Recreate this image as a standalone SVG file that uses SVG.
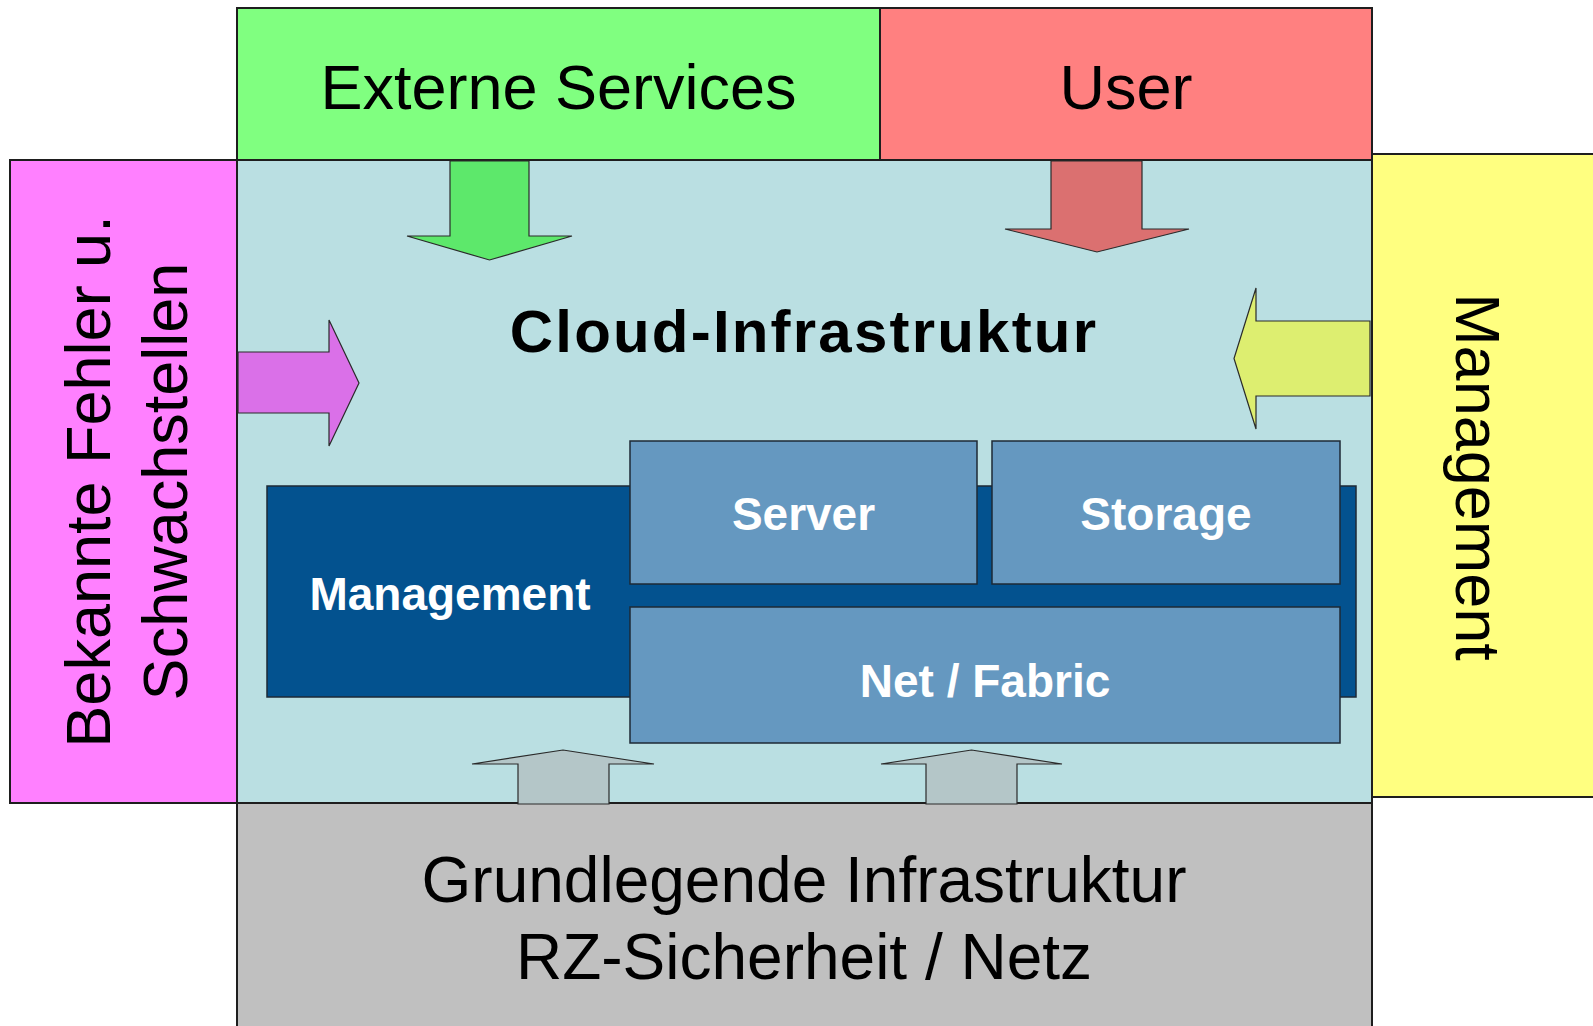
<svg xmlns="http://www.w3.org/2000/svg" width="1593" height="1026" viewBox="0 0 1593 1026">
  <style>
    .box { stroke: #1e1e1e; stroke-width: 2; }
    .inner { stroke: #1e2a36; stroke-width: 1.5; }
    .arrow { stroke: #2a2a2a; stroke-width: 1.2; stroke-linejoin: miter; }
    .lbl { font-family: "Liberation Sans", Arial, sans-serif; fill: #000; text-anchor: middle; }
    .wlbl { font-family: "Liberation Sans", Arial, sans-serif; font-weight: bold; fill: #fff; text-anchor: middle; font-size: 46px; }
  </style>
  <rect width="1593" height="1026" fill="#ffffff"/>

  <!-- outer frame of surrounding areas -->
  <g id="externe-services">
    <rect class="box" x="237" y="8" width="643" height="152" fill="#80ff80"/>
    <text class="lbl" x="558.5" y="108.5" font-size="63">Externe Services</text>
  </g>
  <g id="user">
    <rect class="box" x="880" y="8" width="492" height="152" fill="#ff8080"/>
    <text class="lbl" x="1126" y="108.5" font-size="63">User</text>
  </g>
  <g id="schwachstellen">
    <rect class="box" x="10" y="160" width="227" height="643" fill="#ff80ff" stroke-width="1.5"/>
    <g transform="translate(109.5,481.5) rotate(-90)">
      <text class="lbl" x="0" y="0" font-size="63">Bekannte Fehler u.</text>
      <text class="lbl" x="0" y="77.5" font-size="63">Schwachstellen</text>
    </g>
  </g>
  <g id="management-extern">
    <rect class="box" x="1372" y="154" width="230" height="643" fill="#ffff80" stroke-width="1.5"/>
    <text class="lbl" transform="translate(1456,477) rotate(90)" x="0" y="0" font-size="63">Management</text>
  </g>
  <g id="grundlegende-infrastruktur">
    <rect class="box" x="237" y="803" width="1135" height="240" fill="#c0c0c0" stroke-width="1.5"/>
    <text class="lbl" x="804" y="902" font-size="64">Grundlegende Infrastruktur</text>
    <text class="lbl" x="804" y="979" font-size="64">RZ-Sicherheit / Netz</text>
  </g>
  <g id="cloud-infrastruktur">
    <rect class="box" x="237" y="160" width="1135" height="643" fill="#badfe2" stroke-width="3"/>
    <text x="804" y="352" font-family="Liberation Sans, Arial, sans-serif" font-weight="bold" font-size="60" letter-spacing="2.2" text-anchor="middle" fill="#000">Cloud-Infrastruktur</text>
  </g>

  <!-- inner stack -->
  <g id="management-intern">
    <rect class="inner" x="267" y="486" width="1089" height="211" fill="#03528f"/>
    <text class="wlbl" x="450" y="610">Management</text>
  </g>
  <g id="server">
    <rect class="inner" x="630" y="441" width="347" height="143" fill="#6598c0"/>
    <text class="wlbl" x="803.5" y="530">Server</text>
  </g>
  <g id="storage">
    <rect class="inner" x="992" y="441" width="348" height="143" fill="#6598c0"/>
    <text class="wlbl" x="1166" y="530">Storage</text>
  </g>
  <g id="net-fabric">
    <rect class="inner" x="630" y="607" width="710" height="136" fill="#6598c0"/>
    <text class="wlbl" x="985" y="697">Net / Fabric</text>
  </g>

  <!-- block arrows into the cloud layer -->
  <g id="connectors">
    <polygon class="arrow" fill="#5de86b" points="450,161 450,236 407,236 489.5,260 572,236 529,236 529,161"/>
    <polygon class="arrow" fill="#db7070" points="1051,161 1051,229 1005,229 1097,252 1189,229 1142,229 1142,161"/>
    <polygon class="arrow" fill="#da70e8" points="238,352 329,352 329,320 359,383 329,446 329,413 238,413"/>
    <polygon class="arrow" fill="#ddee70" points="1370,321 1256,321 1256,288 1234,358.5 1256,429 1256,396 1370,396"/>
    <polygon class="arrow" fill="#b4c6c8" points="518,804 518,764 472,764 563,750 654,764 609,764 609,804"/>
    <polygon class="arrow" fill="#b4c6c8" points="926,804 926,764 881,764 971.5,750 1062,764 1017,764 1017,804"/>
  </g>
</svg>
